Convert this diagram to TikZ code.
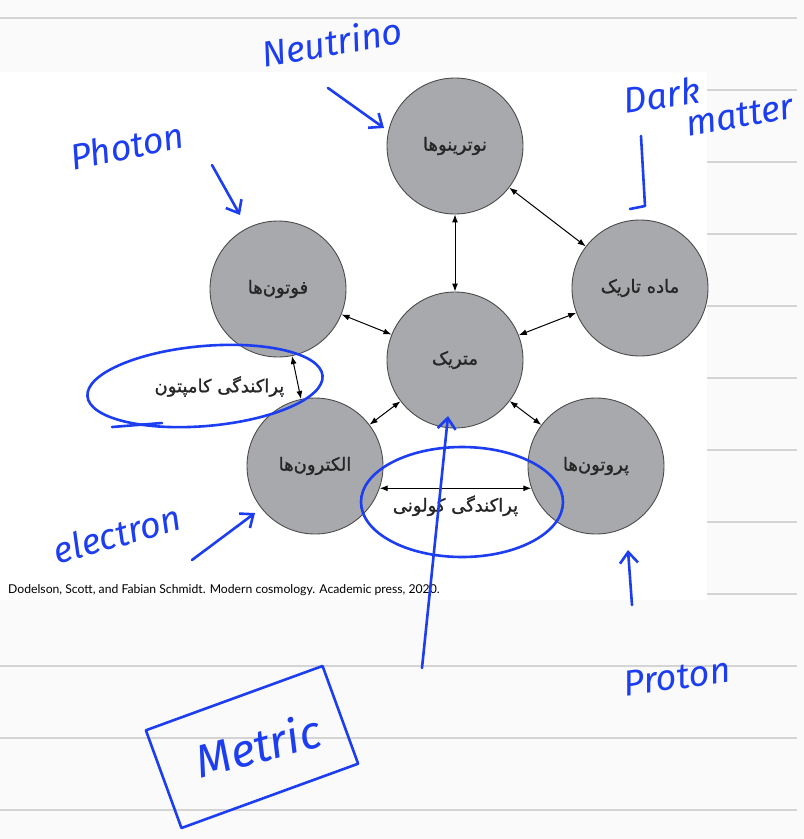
\documentclass[tikz,border=0pt]{standalone}
\usepackage{fontspec}
\setmainfont{Lato}
\newfontfamily\persianfont[Script=Arabic,FakeBold=1.2]{DejaVu Sans}
\newfontfamily\inkfont{Fira Sans}
\TeXXeTstate=1
\usetikzlibrary{arrows.meta}
\usetikzlibrary{calc}

\definecolor{circlegray}{RGB}{167,169,172}
\definecolor{ink}{RGB}{28,62,240}
\definecolor{rulegray}{RGB}{212,212,212}
\definecolor{paper}{RGB}{250,250,250}

\newcommand{\persiantext}[1]{{\persianfont\beginR #1\endR}}

\tikzset{
  particle/.style = {
    circle,
    draw=black!70,
    fill=circlegray,
    line width=0.9pt,
    minimum size=136pt,
    inner sep=0pt,
    text=black!85,
    font=\fontsize{18}{20}\selectfont
  },
  link/.style = {
    {Latex[length=8pt,width=6pt]}-{Latex[length=8pt,width=6pt]},
    line width=1pt
  },
  scatter/.style = {
    inner sep=2pt,
    text=black!85,
    font=\fontsize{18}{20}\selectfont
  },
  rule/.style = {
    draw=rulegray,
    line width=1.6pt
  },
  note/.style = {
    text=ink,
    inner sep=0pt,
    font=\inkfont\itshape\fontsize{36}{38}\selectfont
  },
  stroke/.style = {
    draw=ink,
    line width=2.6pt,
    line cap=round,
    line join=round
  },
  pointer/.style = {
    stroke,
    -{Straight Barb[length=11pt,width=18pt]}
  },
}

\begin{document}
\begin{tikzpicture}[x=1pt,y=-1pt]
  \useasboundingbox (0,0) rectangle (804,839);
  \fill [paper] (0,0) rectangle (804,839);

  % notebook rules
  \foreach \y in {18,90,162,...,810} {
    \draw [rule] (0,\y) -- (797,\y);
  }
  \fill [white] (0,72) rectangle (707,600);

  % the figure
  \node [particle] (neutrinos) at (455,146) {\persiantext{نوترینوها}};
  \node [particle] (photons)   at (278,289) {\persiantext{فوتون^^^^200cها}};
  \node [particle] (darkmatter) at (640,288) {\persiantext{ماده تاریک}};
  \node [particle] (metric)    at (455,360) {\persiantext{متریک}};
  \node [particle] (electrons) at (315,466) {\persiantext{الکترون^^^^200cها}};
  \node [particle] (protons)   at (596,466) {\persiantext{پروتون^^^^200cها}};

  \draw [link] (neutrinos) -- (metric);
  \draw [link] (neutrinos) -- (darkmatter);
  \draw [link] (photons) -- (metric);
  \draw [link] (darkmatter) -- (metric);
  \draw [link] (electrons) -- (metric);
  \draw [link] (protons) -- (metric);
  \draw [link] (photons) -- (electrons);
  \draw [link] (electrons.-19) -- (protons.199);

  \node [scatter,anchor=east] (compton) at ($ (photons)!0.5!(electrons) + (-10,9) $)
    {\persiantext{پراکندگی کامپتون}};
  \node [scatter,anchor=north] (coulomb) at ($ (electrons.-19)!0.5!(protons.199) + (0,5) $)
    {\persiantext{پراکندگی کولونی}};

  \node [anchor=west,inner sep=0pt,font=\fontsize{12.2}{14}\selectfont] (source) at (8,590)
    {Dodelson, Scott, and Fabian Schmidt. Modern cosmology. Academic press, 2020.};

  % handwritten notes
  \node [note,rotate=10] (neutrino-note) at (332,42) {Neutrino};
  \node [note,rotate=12] (photon-note) at (127,146) {Photon};
  \node [note,rotate=8] (dark-note) at (662,95) {Dark};
  \node [note,rotate=10] (matter-note) at (740,116) {matter};
  \node [note,rotate=16] (electron-note) at (117,534) {electron};
  \node [note,rotate=8] (proton-note) at (677,677) {Proton};
  \node [note,rotate=15,font=\inkfont\itshape\fontsize{46}{48}\selectfont] (metric-note) at (258,745) {Metric};
  \draw [stroke,rotate around={20:(252,747)}] ($ (252,747) + (-94,-52) $) rectangle ($ (252,747) + (94,52) $);

  \coordinate (neutrino-tail) at (328,88);
  \coordinate (photon-tail) at (212,165);
  \coordinate (dark-tail) at (641,136);
  \coordinate (electron-tail) at (192,560);
  \coordinate (proton-tail) at (632,605);
  \coordinate (metric-tail) at (422,668);

  \draw [pointer] (neutrino-tail) -- ($ (neutrinos.center) + (-71,-18) $);
  \draw [pointer] (photon-tail) -- ($ (photons.center) + (-38,-74) $);
  \draw [stroke] (dark-tail) -- (645,206) -- (630,209);
  \draw [pointer] (electron-tail) -- ($ (electrons.center) + (-60,47) $);
  \draw [pointer] (proton-tail) -- ($ (protons.center) + (32,84) $);
  \draw [pointer] (metric-tail) -- ($ (metric.center) + (-7,56) $);

  \draw [stroke,rotate around={5:(205,386)}] (205,386) ellipse [x radius=118,y radius=40];
  \draw [stroke] (112,427) -- (162,423);
  \draw [stroke] (462,502) ellipse [x radius=101,y radius=55];
\end{tikzpicture}
\end{document}
